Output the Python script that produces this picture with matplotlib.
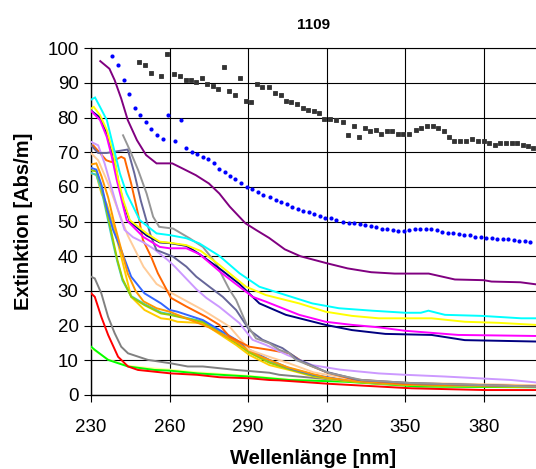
import matplotlib
matplotlib.use("Agg")
import matplotlib.pyplot as plt

plt.rcParams['font.family'] = ['Liberation Sans', 'DejaVu Sans']

# ------------------------------------------------------------
# data (wavelength in nm, extinction in Abs/m)
# ------------------------------------------------------------
sq_x = [248.3, 250.5, 252.7, 256.7, 259.0, 261.7, 263.8, 266.1, 268.3, 270.2,
        272.3, 274.1, 276.4, 278.4, 280.6, 282.7, 284.8, 286.9, 289.1, 291.1,
        293.2, 295.4, 298.1, 300.2, 302.4, 304.5, 306.5, 308.7, 310.9, 312.9,
        315.1, 317.1, 319.1, 321.3, 323.4, 326.2, 328.2, 330.4, 332.4, 334.6,
        336.6, 338.7, 340.8, 342.9, 345.1, 347.2, 349.2, 351.4, 354.2, 356.2,
        358.4, 360.5, 362.5, 364.7, 366.7, 368.8, 370.9, 373.1, 375.7, 377.9,
        380.1, 382.2, 384.3, 386.4, 388.6, 390.7, 392.7, 394.9, 396.9, 398.8]
sq_y = [96.0, 95.1, 93.0, 91.9, 98.3, 92.6, 92.0, 91.0, 91.0, 90.2,
        91.4, 89.8, 89.2, 88.2, 94.5, 87.6, 86.5, 91.4, 84.9, 84.4,
        89.8, 88.7, 88.7, 87.1, 86.5, 84.9, 84.4, 83.9, 82.8, 82.3,
        81.8, 81.3, 79.6, 79.6, 79.2, 78.6, 74.9, 77.5, 74.4, 77.0,
        76.0, 76.5, 75.4, 76.0, 76.0, 75.4, 75.4, 75.4, 76.5, 77.0,
        77.5, 77.5, 77.0, 76.0, 74.4, 73.3, 73.3, 73.3, 73.8, 73.3,
        73.3, 72.7, 72.1, 72.7, 72.7, 72.7, 72.7, 72.1, 71.7, 71.1]

dot_x = [238.1, 240.4, 242.5, 244.6, 246.7, 248.7, 250.9, 252.9, 255.1, 257.3,
         259.2, 262.1, 264.2, 266.2, 268.4, 270.4, 272.6, 274.8, 276.8, 279.0,
         281.0, 283.1, 285.1, 287.3, 289.4, 291.5, 293.6, 295.7, 298.4, 300.6,
         302.6, 304.8, 306.9, 309.0, 311.0, 313.2, 315.3, 317.3, 319.4, 321.5,
         323.6, 326.3, 328.5, 330.6, 332.7, 334.8, 336.9, 339.0, 341.1, 343.2,
         345.3, 347.4, 349.5, 351.6, 353.7, 355.8, 357.9, 360.0, 362.1, 364.2,
         366.3, 368.4, 370.5, 372.6, 374.7, 376.8, 378.9, 381.0, 383.1, 385.2,
         387.3, 389.4, 391.5, 393.6, 395.7, 397.8]
dot_y = [97.7, 95.1, 90.8, 86.7, 82.9, 80.7, 78.7, 76.6, 74.9, 73.8,
         80.7, 73.3, 79.2, 71.3, 70.1, 69.5, 68.6, 68.0, 66.9, 65.3,
         64.4, 63.2, 62.2, 61.0, 60.0, 59.4, 58.4, 57.8, 57.2, 56.2,
         55.7, 55.1, 54.1, 53.5, 53.0, 52.8, 52.1, 51.6, 51.1, 50.9,
         50.5, 49.9, 49.5, 49.5, 49.2, 48.9, 48.6, 48.4, 48.0, 47.8,
         47.6, 47.4, 47.3, 47.6, 48.0, 48.0, 48.0, 47.8, 47.5, 47.0,
         46.6, 46.6, 46.3, 46.0, 46.0, 45.7, 45.7, 45.4, 45.2, 45.0,
         44.9, 45.0, 44.6, 44.3, 44.3, 44.0]

purple_x = [233.5, 237, 239, 241.5, 244, 247.5, 251, 255, 261, 265, 270, 275, 279,
            283, 289, 293, 298, 304, 310, 320, 328, 337, 346, 359, 369, 380, 383,
            394, 400]
purple_y = [96.3, 94.1, 90.8, 85.5, 79.3, 73.5, 69.2, 66.8, 66.8, 65.3, 63.4, 61.0,
            58.1, 54.3, 49.5, 47.6, 45.3, 42.0, 40.0, 38.0, 36.5, 35.4, 35.0, 35.0,
            33.3, 33.1, 32.7, 32.5, 31.9]

cyan_x = [230, 231.5, 233.4, 236, 238.5, 241, 243.6, 248.6, 255, 260, 266.4, 271.4,
          279, 286.7, 294.3, 304.4, 314.5, 324.7, 337.3, 350, 356, 358.9, 362, 365.2,
          379.2, 394.4, 400]
cyan_y = [85.2, 85.8, 83.1, 79.3, 71.6, 63.9, 58.1, 50.4, 46.6, 46.1, 45.2, 43.7,
          40.1, 35.1, 31.2, 28.8, 26.4, 25.0, 24.3, 23.7, 23.7, 24.3, 23.7, 23.1,
          22.8, 22.1, 22.1]

yellow_x = [230, 231, 233.4, 236, 238.5, 240.4, 242.3, 244.8, 251.2, 256.2, 260, 266.4,
            272, 279, 289.2, 296.8, 309.5, 319.6, 329.7, 339.9, 360.1, 372.8, 385.5, 400]
yellow_y = [82.6, 83.1, 80.7, 76.4, 69.7, 62.0, 56.2, 50.4, 46.6, 44.2, 43.9, 43.2,
            41.5, 37.5, 31.2, 28.8, 26.4, 24.0, 22.8, 22.1, 22.1, 21.1, 20.8, 20.2]

magenta_x = [230, 233.4, 236, 237.9, 239.8, 242.3, 243.6, 249.9, 256.2, 260, 266.4,
             271.4, 279, 284.1, 291.7, 296.8, 309.5, 319.6, 329.7, 339.9, 350, 370.3, 400]
magenta_y = [81.9, 79.3, 74.4, 68.7, 62.0, 54.3, 50.4, 45.6, 42.7, 42.3, 42.3,
             40.6, 35.7, 32.7, 28.3, 26.9, 23.1, 21.1, 20.2, 19.5, 18.5, 17.3, 17.0]

navy_x = [230, 233.4, 236, 238.5, 240.4, 242.3, 244.8, 251.2, 256.2, 260, 266.4, 271.4,
          279, 286.7, 294.3, 304.4, 319.6, 329.7, 342.4, 360.1, 372.8, 400]
navy_y = [82.0, 80.0, 75.5, 69.0, 61.5, 55.5, 50.0, 46.0, 44.0, 43.8, 43.0, 40.6,
          36.5, 32.0, 26.4, 23.1, 20.2, 18.7, 17.6, 17.3, 15.8, 15.4]

lav_x = [230, 232.7, 235.2, 237.7, 240.3, 242.8, 246, 250, 254.2, 259.3, 262, 266.4,
         270.2, 274, 279, 286.7, 291.7, 296.8, 305, 314.5, 325, 339.9, 350, 365.2,
         390.5, 400]
lav_y = [73.0, 72.0, 66.7, 60.0, 53.3, 47.6, 45.5, 44.0, 42.0, 38.9, 37.0, 33.5,
         30.5, 28.0, 25.4, 20.7, 15.9, 14.4, 11.5, 8.6, 7.3, 6.2, 5.8, 5.3,
         4.3, 3.6]

slate_x = [230, 232.7, 236, 240, 244, 246.5, 249, 252.9, 255, 261.3, 266.4, 270.2,
           275.2, 280.3, 285.4, 290.5, 295.5, 303.1, 309.5, 319.6, 332.3, 352.5, 400]
slate_y = [72.0, 69.8, 69.8, 70.3, 70.8, 64.0, 56.0, 45.6, 41.8, 39.9, 37.0, 34.1,
           31.2, 28.3, 24.5, 18.7, 15.9, 13.5, 10.1, 6.7, 4.3, 3.4, 2.4]

gray_x = [242.2, 244.8, 248, 251.2, 253.7, 256, 258, 261.3, 267.6, 272.7, 277.8, 280.3,
          282.9, 285.4, 289.2, 293, 298.1, 301.9, 305.7, 308.2, 320.9, 333.5, 352.5, 400]
gray_y = [74.9, 70.6, 64.8, 58.1, 51.4, 48.5, 48.3, 48.0, 45.2, 42.7, 37.9, 34.1,
          30.3, 27.4, 20.7, 16.3, 14.9, 13.0, 12.0, 10.1, 6.3, 4.3, 3.4, 2.4]

orange_x = [230, 230.8, 235.8, 237.7, 241.5, 242.8, 245.3, 247.9, 249.8, 252.9, 255.5,
            260.5, 266.4, 274, 279, 282.9, 290.5, 298.1, 305.7, 312, 320, 330, 350, 400]
orange_y = [71.8, 72.0, 67.7, 67.2, 68.7, 68.2, 61.0, 52.3, 44.7, 39.9, 35.1,
            28.0, 25.5, 22.5, 20.2, 16.8, 13.9, 13.0, 12.0, 9.0, 6.5, 4.5, 3.2, 2.5]

peach_x = [230, 232.7, 236.5, 240.3, 244, 250, 255, 260.5, 272.7, 282.9, 290.5, 298,
           305.7, 315, 330, 350, 400]
peach_y = [69.7, 67.7, 61.0, 53.3, 46.0, 37.0, 32.0, 29.5, 24.5, 19.7, 13.0, 11.0,
           9.1, 6.5, 4.5, 3.5, 2.8]

orange2_x = [230, 232, 234, 236.5, 239, 241.5, 244, 247, 250, 255, 260, 265, 270, 275,
             280, 285, 290, 295, 300, 305, 310, 320, 330, 350, 400]
orange2_y = [66.5, 66.8, 63.0, 57.0, 49.0, 42.0, 35.0, 30.0, 27.0, 25.0, 24.0, 22.5,
             21.0, 19.5, 17.5, 15.5, 13.0, 11.0, 9.5, 8.0, 7.0, 5.0, 4.0, 3.0, 2.5]

blue_x = [230, 232, 234, 236, 238.4, 241.5, 245.3, 250.4, 256.7, 260, 263, 272.7,
          285.4, 290.5, 298.1, 305.7, 315, 325, 340, 360, 400]
blue_y = [65.5, 65.0, 60.5, 54.0, 47.6, 41.8, 34.1, 29.3, 26.4, 24.5, 24.0, 21.6,
          15.9, 13.0, 10.1, 7.7, 5.8, 4.5, 3.5, 3.0, 2.6]

lime_x = [230, 232, 234, 236, 238, 240, 242, 245.3, 250.4, 256.7, 260, 263, 272.7,
          285.4, 290.5, 298.1, 305.7, 315, 325, 340, 360, 400]
lime_y = [64.8, 64.5, 60.0, 53.0, 46.0, 39.0, 33.5, 28.3, 25.9, 23.5, 23.1, 22.6,
          21.0, 15.0, 12.2, 9.3, 7.4, 5.5, 4.3, 3.3, 2.8, 2.4]
aqua_y = [64.0, 63.5, 59.0, 52.0, 45.0, 38.5, 33.0, 28.5, 26.2, 23.8, 23.3, 22.8,
          21.2, 15.2, 12.4, 9.5, 7.5, 5.6, 4.4, 3.4, 2.9, 2.5]

gold_x = [230, 232, 234, 236, 239, 241.5, 245.3, 250.4, 256.7, 260, 263, 272.7,
          285.4, 290.5, 298.1, 305.7, 315, 325, 340, 360, 400]
gold_y = [63.9, 63.5, 58.0, 55.0, 47.6, 39.9, 28.3, 24.5, 22.1, 21.8, 21.1, 20.7,
          14.4, 11.5, 8.6, 7.2, 5.3, 4.2, 3.2, 2.7, 2.3]

gray2_x = [230, 231.4, 233.9, 236.5, 239, 241.5, 244.1, 251.7, 260.5, 266.9, 272.7,
           285.4, 298.1, 301.9, 320.9, 340, 360, 380, 400]
gray2_y = [34.1, 33.6, 29.3, 22.5, 17.8, 13.9, 12.0, 10.1, 9.1, 8.2, 8.2,
           7.2, 6.4, 5.8, 4.5, 3.5, 3.0, 2.6, 2.5]

red_x = [230, 231.4, 233.9, 236.5, 240.3, 244.1, 247.9, 254.2, 260.5, 270.5, 279,
         290.5, 298.1, 301.9, 320.9, 352.5, 380.4, 400]
red_y = [29.3, 28.3, 22.5, 17.3, 11.0, 8.2, 7.2, 6.7, 6.2, 5.8, 5.1,
         4.8, 4.3, 4.2, 3.2, 1.9, 1.4, 1.4]

green_x = [230, 231.4, 236.5, 244.1, 254.2, 260, 270.7, 290.5, 305.7, 327.4, 355.1, 400]
green_y = [13.9, 13.0, 10.1, 8.2, 7.2, 7.0, 6.2, 5.3, 4.3, 3.8, 2.4, 2.2]
ltyellow_y = [13.5, 12.8, 10.2, 8.4, 7.6, 7.3, 6.5, 5.5, 4.5, 3.9, 2.6, 2.3]

x_ticks = [230, 260, 290, 320, 350, 380]
y_ticks = list(range(0, 101, 10))

# ------------------------------------------------------------
# plot
# ------------------------------------------------------------
fig = plt.figure(figsize=(5.36, 4.69), dpi=100)
ax = fig.add_axes([0.170, 0.158, 0.830, 0.739])

lw = 1.4
lines = [
    (ltyellow_y and green_x, ltyellow_y, '#FFFF99'),
    (green_x, green_y, '#00FF00'),
    (red_x, red_y, '#FF0000'),
    (gray2_x, gray2_y, '#808080'),
    (gold_x, gold_y, '#FFCC00'),
    (lime_x, aqua_y, '#33CCCC'),
    (lime_x, lime_y, '#99CC00'),
    (blue_x, blue_y, '#3366FF'),
    (orange2_x, orange2_y, '#FF9900'),
    (peach_x, peach_y, '#FFCC99'),
    (orange_x, orange_y, '#FF6600'),
    (lav_x, lav_y, '#CC99FF'),
    (slate_x, slate_y, '#666699'),
    (gray_x, gray_y, '#969696'),
    (navy_x, navy_y, '#000080'),
    (magenta_x, magenta_y, '#FF00FF'),
    (yellow_x, yellow_y, '#FFFF00'),
    (cyan_x, cyan_y, '#00FFFF'),
    (purple_x, purple_y, '#800080'),
]
for xs, ys, c in lines:
    ax.plot(xs, ys, color=c, lw=lw, solid_joinstyle='miter', zorder=3)

ax.plot(dot_x, dot_y, ls='none', marker='o', ms=3.0, mew=0,
        color='#0000FF', zorder=4)
ax.plot(sq_x, sq_y, ls='none', marker='s', ms=3.0, mew=0.6,
        color='#333333', zorder=4)

ax.set_xlim(230, 400)
ax.set_ylim(0, 100)
ax.set_xticks(x_ticks)
ax.set_yticks(y_ticks)
ax.grid(True, color='black', lw=0.8, zorder=1)
ax.set_axisbelow(True)

for s in ['right']:
    ax.spines[s].set_visible(False)
ax.spines['top'].set_linewidth(0.8)
ax.spines['left'].set_linewidth(1.0)
ax.spines['bottom'].set_linewidth(1.0)

ax.tick_params(direction='out', length=5, width=0.8, labelsize=13.5, pad=4)
ax.tick_params(axis='x', pad=12)

ax.set_title('1109', fontsize=11, fontweight='bold', pad=14)
ax.set_xlabel('Wellenlänge [nm]', fontsize=14.5, fontweight='bold', labelpad=10)
ax.set_ylabel('Extinktion [Abs/m]', fontsize=14.5, fontweight='bold', labelpad=10)

fig.savefig('out.png', dpi=100)
